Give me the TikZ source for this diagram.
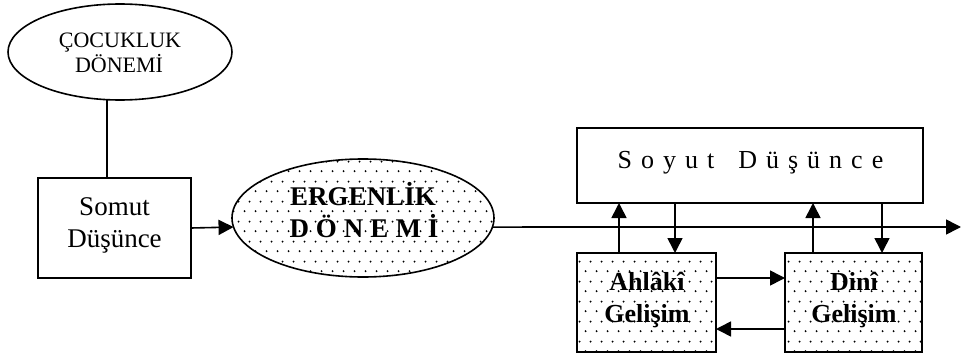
\documentclass[tikz,border=0pt]{standalone}
\usepackage{fontspec}
\setmainfont{Liberation Serif}
\usetikzlibrary{shapes.geometric,arrows.meta,patterns.meta,calc}

\tikzdeclarepattern{
  name=sparsedots,
  type=uncolored,
  bottom left={(0pt,0pt)},
  top right={(11pt,20pt)},
  tile size={(11pt,20pt)},
  code={
    \fill (2.75pt,5pt) circle[radius=1.1pt];
    \fill (8.25pt,15pt) circle[radius=1.1pt];
  }
}
\newcommand\lsp{\hspace{9pt}}
\newcommand\lbp{\hspace{7pt}}

\begin{document}
\begin{tikzpicture}[x=1pt,y=-1pt,line width=1.6pt,
  arr/.style={-{Triangle[length=15pt,width=15pt]}},
  shapebox/.style={draw,inner sep=0pt,outer sep=0pt},
  dotted fill/.style={pattern=sparsedots,pattern color=black},
  txt/.style={anchor=base,inner sep=0pt},
  smalltxt/.style={txt,font=\fontsize{22}{25}\selectfont},
  midtxt/.style={txt,font=\fontsize{27}{30}\selectfont},
  boldtxt/.style={txt,font=\fontsize{27}{30}\selectfont\bfseries},
  boxtxt/.style={txt,font=\fontsize{26}{30}\selectfont\bfseries},
  soyuttxt/.style={txt,font=\fontsize{26}{30}\selectfont}]
\useasboundingbox (0,0) rectangle (962,356);

% shapes
\node[shapebox,ellipse,minimum width=224pt,minimum height=96pt] (cocuk) at (120,52) {};
\node[shapebox,minimum width=153pt,minimum height=100pt] (somut) at (114.5,228) {};
\node[shapebox,ellipse,dotted fill,minimum width=262pt,minimum height=118pt] (ergen) at (363,218) {};
\node[shapebox,minimum width=346pt,minimum height=75pt] (soyut) at (750,165.5) {};
\node[shapebox,dotted fill,minimum width=139pt,minimum height=99pt] (ahl) at (646.5,302.5) {};
\node[shapebox,dotted fill,minimum width=137pt,minimum height=99pt] (dini) at (853.5,302.5) {};

% texts
\node[smalltxt] (cocukA) at (120,47) {ÇOCUKLUK};
\node[smalltxt] (cocukB) at (119,72) {DÖNEMİ};
\node[midtxt] (somutA) at (114.5,215) {Somut};
\node[midtxt] (somutB) at (114.5,247) {Düşünce};
\node[boldtxt] (ergenA) at (363,205) {ERGENLİK};
\node[boldtxt] (ergenB) at (364,237) {D\lbp Ö\lbp N\lbp E\lbp M\lbp İ};
\node[soyuttxt] (soyutT) at (750.5,168) {S\lsp o\lsp y\lsp u\lsp t\hspace{24pt}D\lsp ü\lsp ş\lsp ü\lsp n\lsp c\lsp e};
\node[boxtxt] (ahlA) at (647,290) {Ahlâkî};
\node[boxtxt] (ahlB) at (647,322) {Gelişim};
\node[boxtxt] (diniA) at (854,290) {Dinî};
\node[boxtxt] (diniB) at (854,322) {Gelişim};

% connectors
\draw (cocuk.255) -- (cocuk.255 |- somut.north);
\draw[arr] (somut.east) -- (ergen.184);
\coordinate (rend) at (961,227);
\draw[arr] (ergen.356) -- (rend);

\coordinate (a1) at ($(ahl.north west)+(42,0)$);
\coordinate (a2) at ($(ahl.north west)+(98,0)$);
\coordinate (d1) at ($(dini.north west)+(28,0)$);
\coordinate (d2) at ($(dini.north west)+(97,0)$);
\draw[arr] (a1) -- (a1 |- soyut.south);
\draw[arr] (a2 |- soyut.south) -- (a2);
\draw[arr] (d1) -- (d1 |- soyut.south);
\draw[arr] (d2 |- soyut.south) -- (d2);

\coordinate (h1) at ($(ahl.north east)+(0,25)$);
\coordinate (h2) at ($(dini.north west)+(0,76)$);
\draw[arr] (h1) -- (h1 -| dini.west);
\draw[arr] (h2) -- (h2 -| ahl.east);
\end{tikzpicture}
\end{document}
